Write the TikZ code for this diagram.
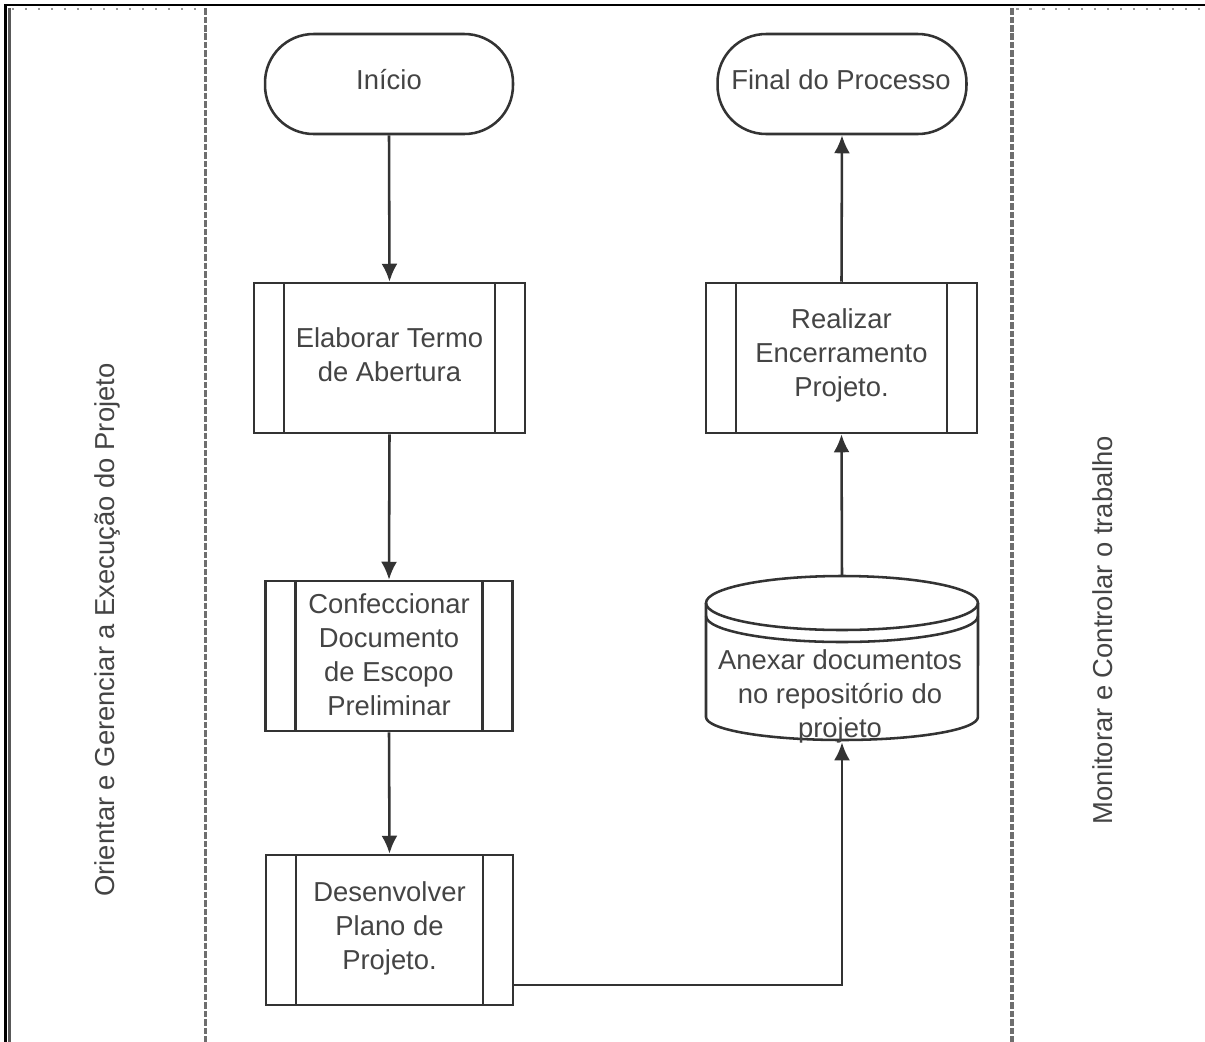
\documentclass[tikz,border=0pt]{standalone}
\usepackage{fontspec}
\setmainfont{Liberation Sans}
\usetikzlibrary{arrows.meta,calc}

\definecolor{inkline}{HTML}{333333}
\definecolor{inktext}{HTML}{444444}
\definecolor{lanegray}{HTML}{6E6E6E}

\tikzset{
  lbl/.style={font=\fontsize{15.6}{19.3}\selectfont, text=inktext, align=center, inner sep=0pt},
  shapeline/.style={draw=inkline, line width=1.45pt},
  terminal/.style={lbl, shapeline, rectangle, rounded corners=0.97cm,
    minimum width=4.96cm, minimum height=2.0cm},
  procbox/.style={lbl, shapeline, rectangle, minimum height=3.0cm,
    path picture={
      \draw[inkline, line width=1.45pt]
        ([xshift=#1]path picture bounding box.north west) --
        ([xshift=#1]path picture bounding box.south west)
        ([xshift=-#1]path picture bounding box.north east) --
        ([xshift=-#1]path picture bounding box.south east);
    }},
  procbox/.default=0.6cm,
  flow/.style={draw=inkline, line width=1.45pt,
    -{Latex[length=0.36cm, width=0.32cm]}},
  lane/.style={draw=lanegray, line width=1.9pt, dash pattern=on 0.13cm off 0.04cm},
}

\begin{document}
\begin{tikzpicture}[x=0.02cm, y=0.02cm]
  \useasboundingbox (0,0) rectangle (1205,-1042);

  % outer frame
  \draw[black, line width=1.4pt] (5.5,-1042) -- (5.5,-5) -- (1205,-5);
  \draw[black!65, line width=2.2pt] (9.5,-8) -- (9.5,-1042);
  \draw[black!40, line width=1.2pt, dash pattern=on 0.05cm off 0.21cm] (12,-9) -- (205,-9);
  \draw[black!40, line width=1.2pt, dash pattern=on 0.05cm off 0.21cm] (1016,-9) -- (1205,-9);

  % swimlane separators
  \draw[lane] (205.5,-8) -- (205.5,-1042);
  \draw[lane] (1012,-8) -- (1012,-1042);

  % lane titles
  \node[lbl, rotate=90] (laneA) at (107,-630) {Orientar e Gerenciar a Execução do Projeto};
  \node[lbl, rotate=90] (laneB) at (1103,-630) {Monitorar e Controlar o trabalho};

  % terminals
  \node[terminal] (ini) at (389,-84) {};
  \node[lbl] (initxt) at (389,-80) {Início};
  \node[terminal, minimum width=4.98cm] (fim) at (842,-84) {};
  \node[lbl] (fimtxt) at (841,-80) {Final do Processo};

  % predefined processes
  \node[procbox, minimum width=5.42cm] (ela) at (389.5,-358) {};
  \node[lbl] (elatxt) at (389.5,-355) {Elaborar Termo\\de Abertura};

  \node[procbox, minimum width=4.94cm] (conf) at (389,-656) {};
  \node[lbl] (conftxt) at (389,-655) {Confeccionar\\Documento\\de Escopo\\Preliminar};

  \node[procbox, minimum width=4.94cm] (des) at (389.5,-930) {};
  \node[lbl] (destxt) at (389.5,-928) {Desenvolver\\Plano de\\Projeto.};

  \node[procbox, minimum width=5.42cm] (enc) at (841.5,-358) {};
  \node[lbl] (enctxt) at (841.5,-355) {Realizar\\Encerramento\\Projeto.};

  % repository (cylinder)
  \node[minimum width=5.44cm, minimum height=3.32cm, inner sep=0pt] (db) at (842,-659) {};
  \draw[shapeline] (842,-603) ellipse [x radius=2.72cm, y radius=0.54cm];
  \draw[shapeline] (706,-603) -- (706,-717)
    arc[start angle=180, end angle=360, x radius=2.72cm, y radius=0.46cm] -- (978,-603);
  \draw[shapeline] (706,-616)
    arc[start angle=180, end angle=360, x radius=2.72cm, y radius=0.52cm];
  \node[lbl] (dbtxt) at (840,-696) {Anexar documentos\\no repositório do\\projeto};

  % flow
  \draw[flow] (ini.south) -- (ela.north);
  \draw[flow] (ela.south) -- (conf.north);
  \draw[flow] (conf.south) -- (des.north);
  \draw[flow] ([yshift=-1.1cm]des.east) -| (db.south);
  \draw[flow] (db.north) -- (enc.south);
  \draw[flow] (enc.north) -- (fim.south);
\end{tikzpicture}
\end{document}
